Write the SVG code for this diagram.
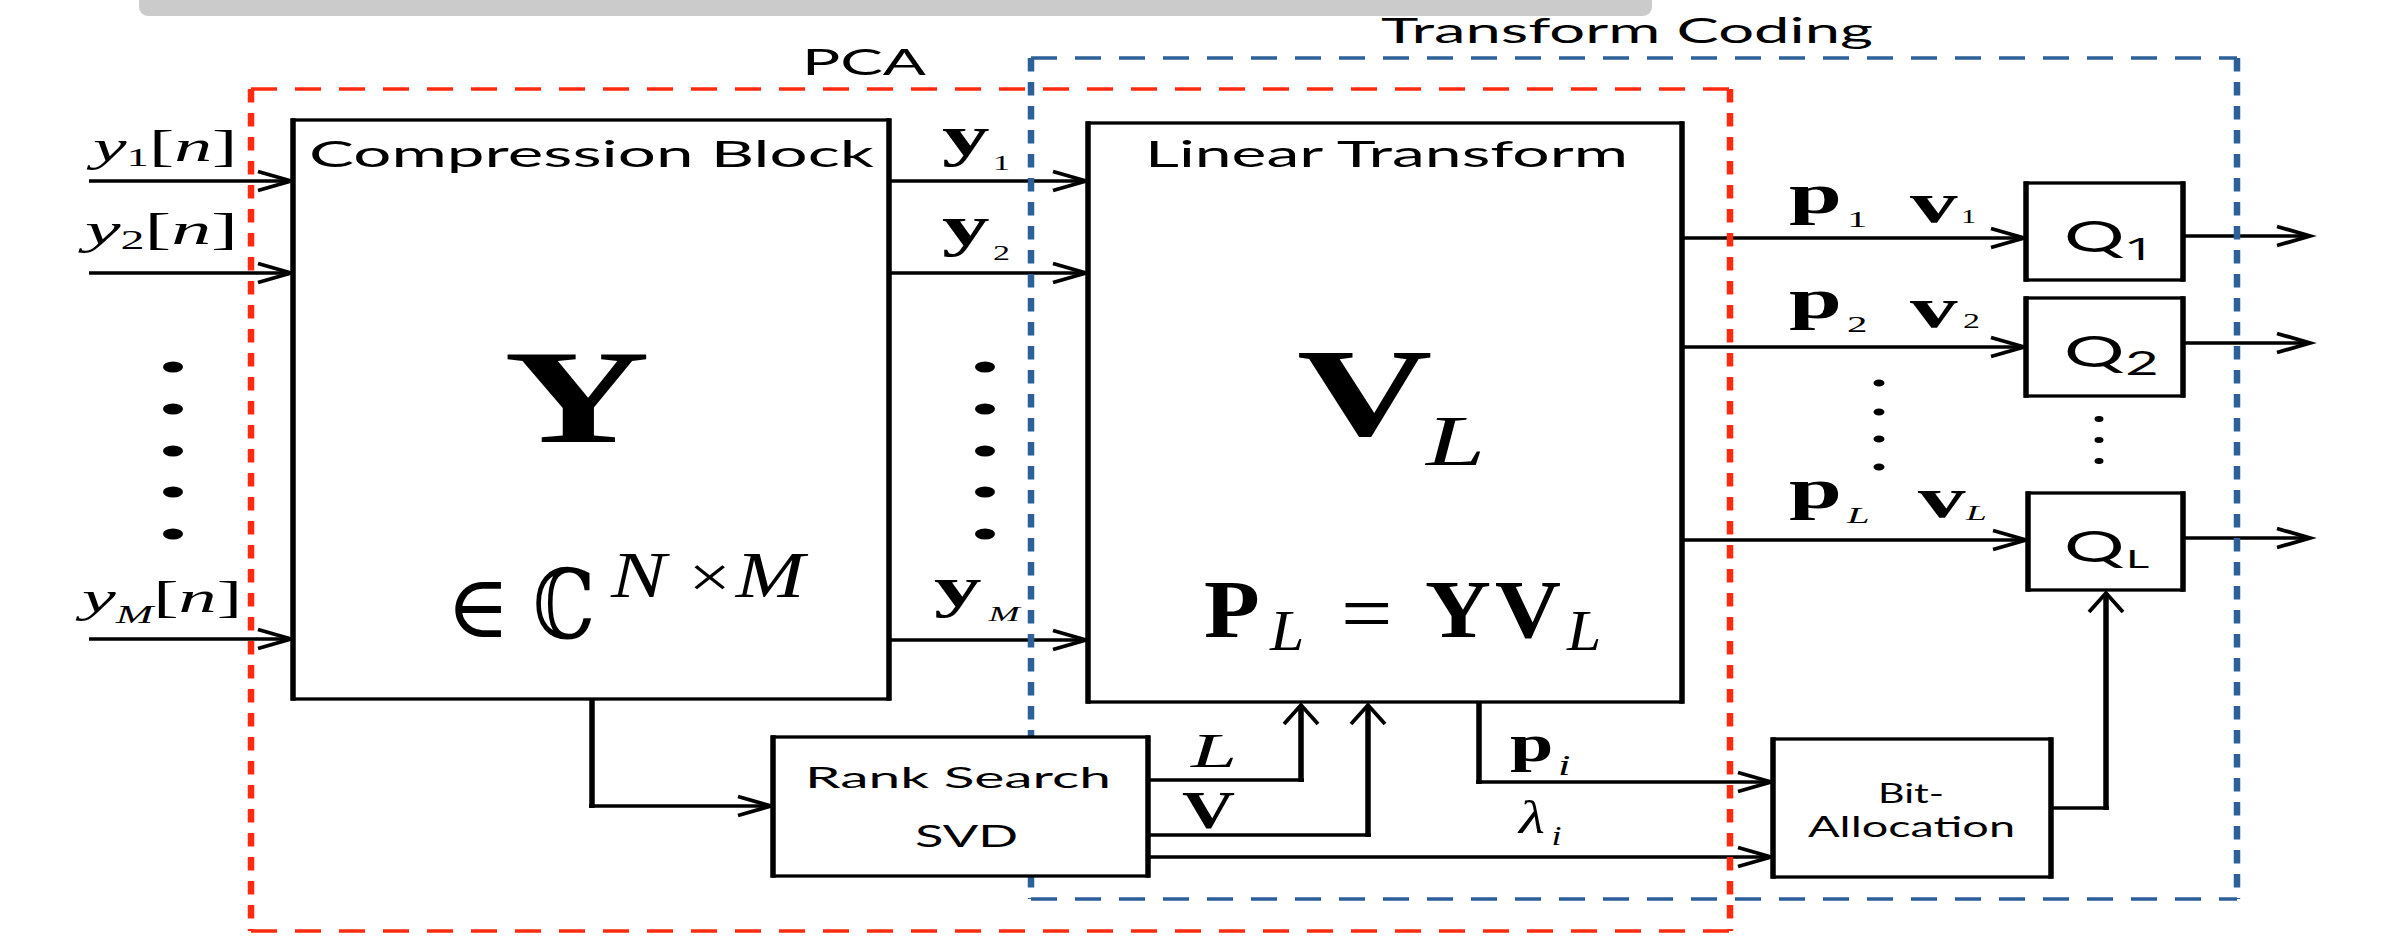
<svg xmlns="http://www.w3.org/2000/svg" xmlns:xlink="http://www.w3.org/1999/xlink" width="2390" height="939" viewBox="0 0 2390 939">
<style>
.sans{font-family:Lato,'Open Sans','Liberation Sans',sans-serif;fill:#000}
.os{font-family:'Open Sans',Lato,sans-serif}
.ser{font-family:'Liberation Serif','DejaVu Serif',serif;fill:#000}
.b{font-weight:bold}
.i{font-style:italic}
.box{fill:#fff;stroke:#000;stroke-width:3.3}
.side{stroke:#000;stroke-width:5.5;fill:none}
.h{stroke:#000;stroke-width:3.3;fill:none}
.v{stroke:#000;stroke-width:5.5;fill:none}
.ah{stroke:#000;stroke-width:3.8;fill:none}
.redH{stroke:#ff2b10;stroke-width:3.3;stroke-dasharray:26 18;fill:none}
.redV{stroke:#ff2b10;stroke-width:6.5;stroke-dasharray:13.5 10.5;fill:none}
.bluH{stroke:#2d5f98;stroke-width:3.3;stroke-dasharray:26 18;fill:none}
.bluV{stroke:#2d5f98;stroke-width:6.5;stroke-dasharray:13.5 10.5;fill:none}
.dot{fill:#000}
</style>
<defs>
<path id="ahR" class="ah" d="M-33,-9.5 L0,0 L-33,9.5"/>
<path id="ahU" class="ah" d="M-17,19 L0,0 L17,19"/>
</defs>
<rect x="139" y="-12" width="1513" height="28" rx="9" fill="#cbcbcb"/>

<g id="connectors">
<path class="h" d="M89,181 H291 M89,273 H291 M89,639 H291"/>
<path class="h" d="M889,181 H1086 M889,273 H1086 M889,640 H1086"/>
<path class="h" d="M1682,238 H2024 M1682,347 H2024 M1682,540 H2026"/>
<path class="h" d="M2183,236 H2310 M2183,343 H2310 M2183,538 H2310"/>
<path class="v" d="M592,699 V808"/>
<path class="h" d="M589,806 H771"/>
<path class="h" d="M1148,780 H1304"/>
<path class="v" d="M1301,782 V706"/>
<path class="h" d="M1148,835 H1371"/>
<path class="v" d="M1368,837 V706"/>
<path class="h" d="M1148,857 H1771"/>
<path class="v" d="M1479,702 V784"/>
<path class="h" d="M1476,782 H1771"/>
<path class="h" d="M2051,808 H2109"/>
<path class="v" d="M2106,810 V594"/>
<use xlink:href="#ahR" x="291" y="181"/>
<use xlink:href="#ahR" x="291" y="273"/>
<use xlink:href="#ahR" x="291" y="639"/>
<use xlink:href="#ahR" x="1086" y="181"/>
<use xlink:href="#ahR" x="1086" y="273"/>
<use xlink:href="#ahR" x="1086" y="640"/>
<use xlink:href="#ahR" x="2024" y="238"/>
<use xlink:href="#ahR" x="2024" y="347"/>
<use xlink:href="#ahR" x="2026" y="540"/>
<use xlink:href="#ahR" x="2310" y="236"/>
<use xlink:href="#ahR" x="2310" y="343"/>
<use xlink:href="#ahR" x="2310" y="538"/>
<use xlink:href="#ahR" x="771" y="806"/>
<use xlink:href="#ahR" x="1771" y="857"/>
<use xlink:href="#ahR" x="1771" y="782"/>
<use xlink:href="#ahU" x="1301" y="705"/>
<use xlink:href="#ahU" x="1368" y="705"/>
<use xlink:href="#ahU" x="2106" y="593"/>

<!-- input labels -->
<text class="ser" font-size="44" transform="translate(93,161) scale(1.72,1)"><tspan class="i">y</tspan><tspan font-size="26" dy="5">1</tspan><tspan dy="-5">[</tspan><tspan class="i">n</tspan>]</text>
<text class="ser" font-size="45" transform="translate(85,244) scale(1.78,1)"><tspan class="i">y</tspan><tspan font-size="27" dy="5">2</tspan><tspan dy="-5">[</tspan><tspan class="i">n</tspan>]</text>
<text class="ser" font-size="44" transform="translate(82,612) scale(1.73,1)"><tspan class="i">y</tspan><tspan class="i" font-size="26" dy="11">M</tspan><tspan dy="-11">[</tspan><tspan class="i">n</tspan>]</text>

<!-- y outputs -->
<text class="ser" transform="translate(942,155) scale(1.7,1)"><tspan class="b" font-size="56">y</tspan><tspan font-size="20" dx="2" dy="15">1</tspan></text>
<text class="ser" transform="translate(942,245) scale(1.7,1)"><tspan class="b" font-size="56">y</tspan><tspan font-size="20" dx="2" dy="15">2</tspan></text>
<text class="ser" transform="translate(934,606) scale(1.7,1)"><tspan class="b" font-size="56">y</tspan><tspan class="i" font-size="22" dx="4" dy="15">M</tspan></text>

<!-- p v labels -->
<text class="ser" transform="translate(1789,0) scale(1.7,1)"><tspan class="b" font-size="56" x="0" y="213">p</tspan><tspan font-size="24" x="34.1" y="227">1</tspan><tspan class="b" font-size="56" x="71.2" y="222">v</tspan><tspan font-size="18" x="101.2" y="223">1</tspan></text>
<text class="ser" transform="translate(1789,0) scale(1.7,1)"><tspan class="b" font-size="56" x="0" y="318">p</tspan><tspan font-size="24" x="34.1" y="332">2</tspan><tspan class="b" font-size="56" x="71.2" y="327">v</tspan><tspan font-size="20" x="102.4" y="328">2</tspan></text>
<text class="ser" transform="translate(1789,0) scale(1.7,1)"><tspan class="b" font-size="56" x="0" y="508">p</tspan><tspan class="i" font-size="24" x="34.1" y="523">L</tspan><tspan class="b" font-size="56" x="75.9" y="517">v</tspan><tspan class="i" font-size="22" x="104.1" y="520">L</tspan></text>

<!-- bottom labels -->
<text class="ser i" x="1191" y="767" font-size="48" textLength="46" lengthAdjust="spacingAndGlyphs">L</text>
<text class="ser b" x="1182" y="828" font-size="53" textLength="53" lengthAdjust="spacingAndGlyphs">V</text>
<text class="ser" transform="translate(1510,0) scale(1.5,1)"><tspan class="b" font-size="52" x="0" y="761">p</tspan><tspan class="i" font-size="30" x="32" y="775">i</tspan></text>
<text class="ser" transform="translate(1519,0) scale(1.3,1)"><tspan class="i" font-size="46" x="0" y="833">λ</tspan><tspan class="i" font-size="28" x="25" y="845">i</tspan></text>
</g>

<g id="ellipsis">
<ellipse class="dot" cx="173" cy="367" rx="10" ry="5.5"/>
<ellipse class="dot" cx="173" cy="409" rx="10" ry="5.5"/>
<ellipse class="dot" cx="173" cy="451" rx="10" ry="5.5"/>
<ellipse class="dot" cx="173" cy="492" rx="10" ry="5.5"/>
<ellipse class="dot" cx="173" cy="534" rx="10" ry="5.5"/>
<ellipse class="dot" cx="985" cy="367" rx="10" ry="5.5"/>
<ellipse class="dot" cx="985" cy="409" rx="10" ry="5.5"/>
<ellipse class="dot" cx="985" cy="451" rx="10" ry="5.5"/>
<ellipse class="dot" cx="985" cy="492" rx="10" ry="5.5"/>
<ellipse class="dot" cx="985" cy="534" rx="10" ry="5.5"/>
<ellipse class="dot" cx="1879" cy="383" rx="5.5" ry="3.5"/>
<ellipse class="dot" cx="1879" cy="412" rx="5.5" ry="3.5"/>
<ellipse class="dot" cx="1879" cy="439" rx="5.5" ry="3.5"/>
<ellipse class="dot" cx="1879" cy="467" rx="5.5" ry="3.5"/>
<ellipse class="dot" cx="2099" cy="419" rx="4.5" ry="3"/>
<ellipse class="dot" cx="2099" cy="440" rx="4.5" ry="3"/>
<ellipse class="dot" cx="2099" cy="461" rx="4.5" ry="3"/>
</g>

<g id="pca-region">
<path class="redH" d="M251,89 H1730 M251,931 H1730"/>
<path class="redV" d="M251,89 V931 M1730,89 V931"/>
<text class="sans" x="802" y="75" font-size="37" textLength="124" lengthAdjust="spacingAndGlyphs">PCA</text>
</g>
<g id="transform-coding-region">
<path class="bluH" d="M1031,58 H2237 M1031,899 H2237"/>
<path class="bluV" d="M1031,58 V899 M2237,58 V899"/>
<text class="sans" x="1381" y="43" font-size="35" textLength="492" lengthAdjust="spacingAndGlyphs">Transform Coding</text>
</g>

<g id="compression-block">
<rect class="box" x="293" y="120" width="596" height="579"/>
<path class="side" d="M293,118.35 V700.65 M889,118.35 V700.65"/>
<text class="sans" x="309" y="167" font-size="37" textLength="565" lengthAdjust="spacingAndGlyphs">Compression Block</text>
<text class="ser b" x="504" y="442" font-size="134" textLength="146" lengthAdjust="spacingAndGlyphs">Y</text>
<text class="ser" x="446" y="637" font-size="88" textLength="64" lengthAdjust="spacingAndGlyphs">∈</text>
<text class="ser" x="533" y="638" font-size="96" textLength="62" lengthAdjust="spacingAndGlyphs">ℂ</text>
<text class="ser" transform="translate(611,597) scale(1.25,1)"><tspan class="i" font-size="66">N</tspan><tspan font-size="60" dx="18">×</tspan><tspan class="i" font-size="66" dx="4">M</tspan></text>
</g>

<g id="linear-transform">
<rect class="box" x="1088" y="123" width="594" height="579"/>
<path class="side" d="M1088,121.35 V703.65 M1682,121.35 V703.65"/>
<text class="sans" x="1145" y="167" font-size="37" textLength="483" lengthAdjust="spacingAndGlyphs">Linear Transform</text>
<text class="ser" transform="translate(1297,0) scale(1.5,1)"><tspan class="b" font-size="125" x="0" y="435">V</tspan><tspan class="i" font-size="71" x="86" y="465">L</tspan></text>
<text class="ser" transform="translate(1204,0) scale(1.1,1)"><tspan class="b" font-size="83" x="0" y="637">P</tspan><tspan class="i" font-size="56" x="60" y="650">L</tspan><tspan font-size="83" x="124.5" y="641">=</tspan><tspan class="b" font-size="83" x="200.9" y="637">Y</tspan><tspan class="b" font-size="83" x="264.5" y="637">V</tspan><tspan class="i" font-size="56" x="330" y="650">L</tspan></text>
</g>

<g id="rank-search-svd">
<rect class="box" x="773" y="737" width="375" height="139"/>
<path class="side" d="M773,735.35 V877.65 M1148,735.35 V877.65"/>
<text class="sans" x="805" y="788" font-size="29" textLength="306" lengthAdjust="spacingAndGlyphs">Rank Search</text>
<text class="sans" x="915" y="847" font-size="30" textLength="103" lengthAdjust="spacingAndGlyphs">SVD</text>
</g>

<g id="bit-allocation">
<rect class="box" x="1773" y="739" width="278" height="138"/>
<path class="side" d="M1773,737.35 V878.65 M2051,737.35 V878.65"/>
<text class="sans" x="1878" y="803" font-size="26" textLength="66" lengthAdjust="spacingAndGlyphs">Bit-</text>
<text class="sans" x="1808" y="837" font-size="28" textLength="207" lengthAdjust="spacingAndGlyphs">Allocation</text>
</g>

<g id="q1">
<rect class="box" x="2026" y="183" width="157" height="97"/>
<path class="side" d="M2026,181.35 V281.65 M2183,181.35 V281.65"/>
<text class="sans" transform="translate(2064,0) scale(1.8,1)"><tspan font-size="42" x="0" y="252">Q</tspan><tspan class="os" font-size="31" x="33" y="260">1</tspan></text>
</g>
<g id="q2">
<rect class="box" x="2026" y="298" width="157" height="98"/>
<path class="side" d="M2026,296.35 V397.65 M2183,296.35 V397.65"/>
<text class="sans" transform="translate(2064,0) scale(1.8,1)"><tspan font-size="42" x="0" y="367">Q</tspan><tspan font-size="32" x="34" y="375">2</tspan></text>
</g>
<g id="qL">
<rect class="box" x="2028" y="493" width="155" height="97"/>
<path class="side" d="M2028,491.35 V591.65 M2183,491.35 V591.65"/>
<text class="sans" transform="translate(2064,0) scale(1.8,1)"><tspan font-size="42" x="0" y="562">Q</tspan><tspan font-size="25" x="34.4" y="568">L</tspan></text>
</g>
</svg>
